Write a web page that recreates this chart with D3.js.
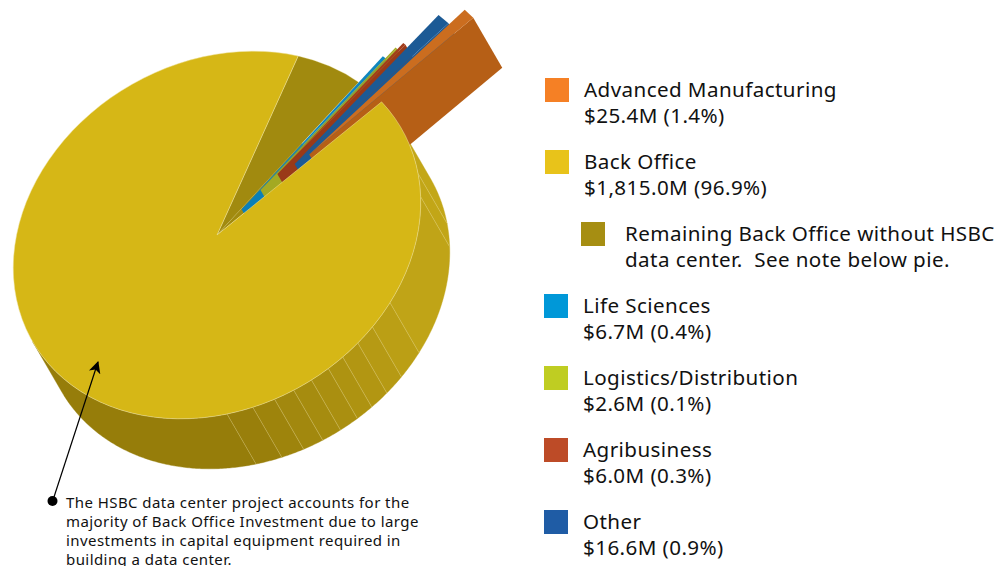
<!DOCTYPE html>
<html><head><meta charset="utf-8">
<style>html,body{margin:0;padding:0;background:#fff}svg{display:block}text{font-family:"Noto Sans",sans-serif;fill:#111;white-space:pre}</style>
<script src="https://cdn.jsdelivr.net/npm/d3@7"></script></head><body>
<svg id="c" width="997" height="566"></svg>
<script>
// --- data
const legendNames = ["Advanced Manufacturing","Back Office","Remaining Back Office without HSBC","Life Sciences","Logistics/Distribution","Agribusiness","Other"];
const legendValues = ["$25.4M (1.4%)","$1,815.0M (96.9%)","data center.  See note below pie.","$6.7M (0.4%)","$2.6M (0.1%)","$6.0M (0.3%)","$16.6M (0.9%)"];
const legendColors = ["#f58025","#e8c31a","#a68e12","#0098d8","#bfcd22","#bd4b27","#1f5ca5"];
const noteLines = ["The HSBC data center project accounts for the","majority of Back Office Investment due to large","investments in capital equipment required in","building a data center."];
const remainingValue = 107;            // estimated from the wedge
const hsbcValue = 1815.0 - remainingValue;
const sliverNames = ["Life Sciences","Logistics/Distribution","Agribusiness","Other","Advanced Manufacturing"];
const sliverValues = [6.7,2.6,6.0,16.6,25.4];
const sliverReach = [1.17,1.24,1.28,1.49,1.59];
const sliverWallFrom = [0.17,0.30,0.41,0.50,0.58];
const sliverWallAngle = [-19.8,-19.5,-18.6,-15.2,-13.6];
const sliverTop = ["#0f86bf","#a3a922","#a23c1b","#1c5a95","#cb6d1f"];
const sliverWall = ["#0a7fb8","#a3a922","#9a3a18","#1c5a95","#b65f16"];
const wallBreaks = [0,15.9,23.4,57,65.4,71.4,77,82,87.5,93,98.7,105,112.3,180];

// --- geometry
const svg = d3.select("#c"), rad = d3.scaleLinear().domain([0,180]).range([0,Math.PI]);
const cx=217, cy=235, a=213, b=173, tilt=-30, depth=[29,50];
const cs=Math.cos(rad(tilt)), sn=Math.sin(rad(tilt));
const P=(t,r=1)=>{const u=a*r*Math.cos(rad(t)), v=b*r*Math.sin(rad(t));return [cx+u*cs-v*sn, cy+u*sn+v*cs];};
const shift=p=>[p[0]+depth[0],p[1]+depth[1]];
const line=d3.line(), poly=pts=>line(pts)+"Z";

// pie layout, in degrees clockwise on the tilted ellipse
const pieStart=-41.4;
const pie=d3.pie().sort(null).value(d=>d).startAngle(rad(pieStart+90)).endAngle(rad(pieStart+450));
const arcs=pie([remainingValue,d3.sum(sliverValues),hsbcValue]);
const arc=d3.arc().innerRadius(0).outerRadius(100);
const frame=`translate(${cx},${cy}) rotate(${tilt}) scale(${a/100},${b/100})`;
const edge="#efe3a0";

// main side wall
const shade=d3.scaleLinear().domain([0,57,112.3]).range(["#c4a818","#bea216","#967d0a"]);
const wall=svg.append("g");
d3.pairs(wallBreaks).forEach(([t0,t1])=>{
  const top=d3.range(t0,t1,0.5).concat(t1).map(t=>P(t));
  const col=shade((t0+Math.min(t1,112.3))/2);
  wall.append("path").attr("d",poly(top.concat(top.map(shift).reverse()))).attr("fill",col).attr("stroke",col).attr("stroke-width",0.4);
});
wallBreaks.slice(1,-1).forEach(t=>{
  const p=P(t);
  wall.append("path").attr("d",line([p,shift(p)])).attr("stroke",edge).attr("stroke-opacity",.55).attr("stroke-width",.6).attr("fill","none");
});

// remaining back office wedge, with its colour carried under the roots of the slivers
svg.append("path").attr("transform",frame)
  .attr("d",d3.arc().innerRadius(0).outerRadius(60)({startAngle:arcs[1].startAngle-0.01,endAngle:rad(-11+90)})).attr("fill","#a18a0f");
svg.append("path").attr("transform",frame).attr("d",arc(arcs[0])).attr("fill","#a18a0f")
  .attr("stroke",edge).attr("stroke-opacity",.5).attr("stroke-width",.6).attr("vector-effect","non-scaling-stroke");

// exploded slivers: narrow bands whose tips are spread along a scale of cumulative value
const cum=[0].concat(Array.from(d3.cumsum(sliverValues)));
const tipAngle=d3.scaleLinear().domain([cum[0],cum[2],cum[3],cum[4],cum[5]]).range([-20.8,-19.5,-18.6,-15.2,-12.6]);
const tipStart=[-20.8,-19.9,-19.3,-18.0,-15.0];
sliverValues.forEach((v,i)=>{
  const t0=tipStart[i], t1=tipAngle(cum[i+1]), r=sliverReach[i];
  const A=P(sliverWallAngle[i],sliverWallFrom[i]), T1=P(t0,r), T2=P(t1,r);
  svg.append("path").attr("d",poly([A,T2,shift(T2),shift(A)])).attr("fill",sliverWall[i]);
  svg.append("path").attr("d",poly([A,T1,T2])).attr("fill",sliverTop[i]);
});

// HSBC front face
const hsbc=Object.assign({},arcs[2],{startAngle:rad(-11+90)});
svg.append("path").attr("transform",frame).attr("d",arc(hsbc)).attr("fill","#d6b716")
  .attr("stroke",edge).attr("stroke-opacity",.7).attr("stroke-width",.7).attr("vector-effect","non-scaling-stroke");

// arrow and note
svg.append("defs").append("marker").attr("id","ah").attr("viewBox","0 0 12 12").attr("refX",11).attr("refY",6)
  .attr("markerWidth",12).attr("markerHeight",12).attr("markerUnits","userSpaceOnUse").attr("orient","auto")
  .append("path").attr("d","M0,0L12,6L0,12L3,6Z").attr("fill","#000");
svg.append("line").attr("x1",53).attr("y1",500).attr("x2",98).attr("y2",362).attr("stroke","#000").attr("stroke-width",1.2).attr("marker-end","url(#ah)");
svg.append("circle").attr("cx",52.5).attr("cy",501).attr("r",5).attr("fill","#000");
svg.append("g").selectAll("text").data(noteLines).join("text")
  .attr("x",66).attr("y",(d,i)=>507.5+i*19).attr("font-size",15).attr("letter-spacing",0.43).text(d=>d);

// legend
const sx=[545,545,581,544,544,544,544], sy=[78,150,222,294,366,438,510], tx=[584,584,625,583,583,583,583];
const lg=svg.append("g");
legendNames.forEach((n,i)=>{
  lg.append("rect").attr("x",sx[i]).attr("y",sy[i]).attr("width",24).attr("height",24).attr("fill",legendColors[i]);
  lg.append("text").attr("x",tx[i]).attr("y",sy[i]+19).attr("font-size",20.6).attr("letter-spacing",0.42).text(n);
  lg.append("text").attr("x",tx[i]).attr("y",sy[i]+45).attr("font-size",20.6).attr("letter-spacing",0.42).text(legendValues[i]);
});
</script></body></html>
